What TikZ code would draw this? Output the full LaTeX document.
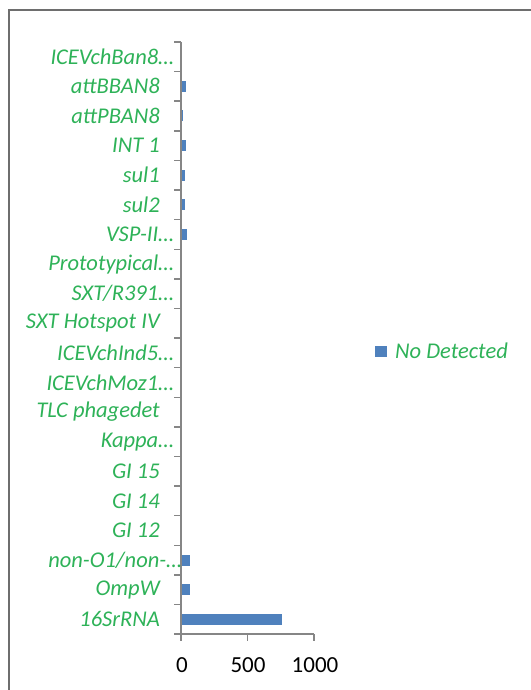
\documentclass[tikz,border=0pt]{standalone}
\usepackage{fontspec}
\setmainfont{Carlito}
\definecolor{labelgreen}{RGB}{46,178,88}
\definecolor{barblue}{RGB}{79,129,189}
\definecolor{axisgrey}{RGB}{134,134,134}
\definecolor{framegrey}{RGB}{110,110,110}
\newcommand{\slsep}{/}
\tikzset{
  catlabel/.style={font=\fontsize{22.5}{26}\selectfont\itshape, text=labelgreen, inner sep=0pt},
  ticklabel/.style={font=\fontsize{23}{26}\selectfont, text=black, inner sep=0pt},
  axisline/.style={draw=axisgrey, line width=1.4pt},
  bar/.style={fill=barblue}
}
\begin{document}
\begin{tikzpicture}[x=1pt,y=-1pt]
\useasboundingbox (0,0) rectangle (530,690);
% chart frame (runs off the right and bottom edges)
\draw[draw=framegrey, line width=1.5pt] (9,700) -- (9,10) -- (540,10);

% category axis with ticks at the category boundaries
\def\axtop{42}
\def\axbot{634}
\def\catstep{29.6}
\draw[axisline] (181,\axtop) -- (181,\axbot) -- (314,\axbot);
\foreach \i in {0,...,20}{
  \draw[axisline] (174,\axtop+\i*\catstep) -- (181,\axtop+\i*\catstep);
}
% value axis ticks: 0, 500, 1000
\foreach \x in {181,247.5,314}{
  \draw[axisline] (\x,\axbot) -- (\x,641);
}
\node[ticklabel] (t0) at (182,665) {0};
\node[ticklabel] (t500) at (248,665) {500};
\node[ticklabel] (t1000) at (315,665) {1000};

% category labels, top to bottom
\foreach \name/\txt/\xr [count=\i from 0] in {
  c01/ICEVchBan8…/174,
  c02/attBBAN8/160,
  c03/attPBAN8/160,
  c04/INT 1/160,
  c05/sul1/160,
  c06/sul2/160,
  c07/VSP-II…/174,
  c08/Prototypical…/174,
  c09/SXT\slsep R391…/174,
  c10/SXT Hotspot IV/160,
  c11/ICEVchInd5…/174,
  c12/ICEVchMoz1…/174,
  c13/TLC phagedet/160,
  c14/Kappa…/174,
  c15/GI 15/160,
  c16/GI 14/160,
  c17/GI 12/160,
  c18/non-O1\slsep non-…/182,
  c19/OmpW/160,
  c20/16SrRNA/160}{
  \node[catlabel, anchor=east] (\name) at (\xr,\axtop+\i*\catstep+0.5*\catstep) {\txt};
}

% bars (value scale: 1000 = 133 units)
\foreach \i/\w in {1/4.5, 2/1.5, 3/4.5, 4/3.5, 5/3.5, 6/5.5, 17/8.5, 18/8.5, 19/100.5}{
  \fill[bar] (181.5,\axtop+\i*\catstep+0.5*\catstep-5.5) rectangle ++(\w,11);
}

% legend
\fill[bar] (375,345.5) rectangle (387,357);
\node[catlabel, anchor=west] (legend) at (395,350.5) {No Detected};
\end{tikzpicture}
\end{document}
